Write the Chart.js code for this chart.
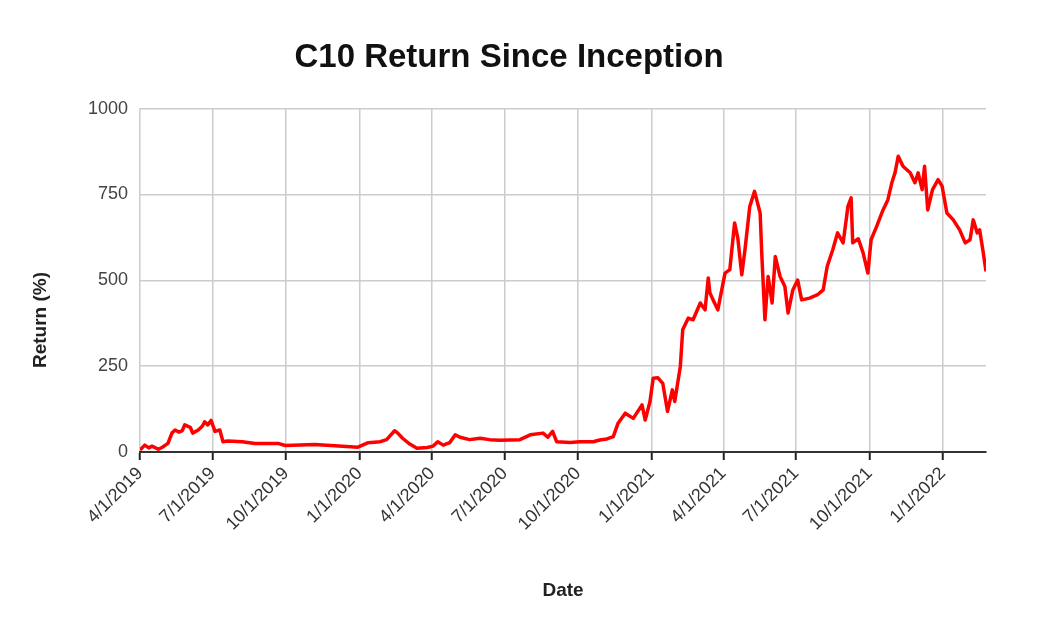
<!DOCTYPE html>
<html lang="en">

<head>
  <meta charset="UTF-8">
  <title>C10 Return Since Inception</title>
  <style>
    body { margin: 0; background: #fff; }
    #wrap { width: 1054px; height: 624px; }
  </style>
</head>

<body>
  <div id="wrap"><canvas id="chart"></canvas></div>

  <script src="https://cdn.jsdelivr.net/npm/chart.js"></script>

  <script>
    // quarter ticks on the date axis
    const tickLabels = ['4/1/2019', '7/1/2019', '10/1/2019', '1/1/2020', '4/1/2020', '7/1/2020',
      '10/1/2020', '1/1/2021', '4/1/2021', '7/1/2021', '10/1/2021', '1/1/2022']

    // dates
    const dates = [
      '4/1/2019', '4/7/2019', '4/12/2019', '4/16/2019', '4/24/2019', '4/29/2019', '5/6/2019', '5/11/2019',
      '5/15/2019', '5/20/2019', '5/24/2019', '5/27/2019', '6/3/2019', '6/6/2019', '6/13/2019', '6/18/2019',
      '6/21/2019', '6/25/2019', '6/29/2019', '7/4/2019', '7/10/2019', '7/14/2019', '7/20/2019', '8/7/2019',
      '8/23/2019', '9/21/2019', '9/30/2019', '11/6/2019', '12/1/2019', '12/30/2019',
      '1/12/2020', '1/27/2020', '2/4/2020', '2/14/2020', '2/18/2020', '2/24/2020', '3/4/2020', '3/13/2020',
      '3/26/2020', '4/2/2020', '4/8/2020', '4/15/2020', '4/23/2020', '4/30/2020', '5/6/2020', '5/18/2020',
      '5/31/2020', '6/12/2020', '6/25/2020', '7/20/2020', '8/2/2020', '8/18/2020', '8/24/2020', '8/30/2020',
      '9/4/2020', '9/21/2020', '10/3/2020', '10/20/2020', '10/28/2020', '11/6/2020', '11/14/2020', '11/20/2020',
      '11/29/2020', '12/9/2020', '12/20/2020', '12/24/2020', '12/30/2020',
      '1/3/2021', '1/9/2021', '1/15/2021', '1/21/2021', '1/27/2021', '1/30/2021', '2/6/2021', '2/9/2021',
      '2/16/2021', '2/22/2021', '3/3/2021', '3/9/2021', '3/13/2021', '3/15/2021', '3/19/2021', '3/25/2021',
      '4/3/2021', '4/9/2021', '4/15/2021', '4/19/2021', '4/24/2021', '4/28/2021', '5/4/2021', '5/10/2021',
      '5/17/2021', '5/19/2021', '5/23/2021', '5/27/2021', '6/1/2021', '6/5/2021', '6/11/2021', '6/17/2021',
      '6/21/2021', '6/27/2021', '7/3/2021', '7/8/2021', '7/18/2021', '7/28/2021', '8/4/2021', '8/9/2021',
      '8/16/2021', '8/22/2021', '8/29/2021', '9/4/2021', '9/8/2021', '9/10/2021', '9/17/2021', '9/23/2021',
      '9/29/2021', '10/3/2021', '10/10/2021', '10/18/2021', '10/24/2021', '10/29/2021', '11/2/2021', '11/6/2021',
      '11/12/2021', '11/21/2021', '11/27/2021', '12/1/2021', '12/6/2021', '12/9/2021', '12/13/2021', '12/19/2021',
      '12/26/2021', '12/31/2021',
      '1/6/2022', '1/14/2022', '1/22/2022', '1/29/2022', '2/4/2022', '2/8/2022', '2/13/2022', '2/16/2022',
      '2/20/2022', '2/24/2022'
    ]

    // return in %
    const returns = [
      6, 20, 12, 17, 8, 14, 25, 55,
      64, 58, 62, 79, 72, 55, 64, 75,
      88, 79, 92, 60, 64, 30, 32, 30,
      25, 25, 19, 22, 18, 14,
      27, 30, 36, 62, 55, 40, 23, 11,
      13, 17, 30, 20, 27, 50, 43, 36,
      40, 36, 34, 36, 50, 55, 43, 60,
      30, 28, 30, 30, 35, 38, 45, 84,
      113, 98, 137, 93, 147,
      215, 216, 200, 118, 181, 147, 249, 356,
      390, 385, 434, 414, 507, 464, 443, 414,
      521, 531, 667, 623, 516, 589, 715, 759,
      696, 580, 385, 511, 434, 569, 511, 482,
      405, 472, 501, 443, 448, 458, 472, 540,
      589, 638, 609, 715, 740, 609, 621, 580,
      521, 618, 657, 705, 734, 784, 813, 861,
      832, 813, 784, 813, 764, 832, 705, 764,
      793, 774,
      696, 676, 647, 609, 618, 676, 638, 647,
      589, 526
    ]

    const FONT = 'Arial, "Liberation Sans", sans-serif'
    const start = Date.UTC(2019, 3, 1)

    // 'M/D/YYYY' -> days since 4/1/2019
    function dayOf(s) {
      const [m, d, y] = s.split('/').map(Number)
      return (Date.UTC(y, m - 1, d) - start) / 864e5
    }

    const points = dates.map((s, i) => ({ x: dayOf(s), y: returns[i] }))
    const tickDays = tickLabels.map(dayOf)

    // y axis title sits a bit below the middle of the plot
    const yTitle = {
      id: 'yTitle',
      afterDraw(chart) {
        const c = chart.ctx
        c.save()
        c.translate(41, 320)
        c.rotate(-Math.PI / 2)
        c.font = 'bold 19px ' + FONT
        c.fillStyle = '#222'
        c.textAlign = 'center'
        c.textBaseline = 'middle'
        c.fillText('Return (%)', 0, 0)
        c.restore()
      }
    }

    new Chart(document.getElementById('chart'), {
      type: 'line',
      data: {
        datasets: [
          {
            label: 'C10',
            data: points,
            borderColor: '#ff0000',
            borderWidth: 3.5,
            borderJoinStyle: 'round',
            pointRadius: 0,
            tension: 0,
            fill: false,
          }
        ]
      },
      options: {
        responsive: true,
        maintainAspectRatio: false,
        animation: false,
        layout: { padding: { left: 32, right: 68, top: 0, bottom: 0 } },
        plugins: {
          legend: { display: false },
          tooltip: { enabled: false },
          title: {
            display: true,
            text: 'C10 Return Since Inception',
            color: '#111',
            font: { family: FONT, size: 33, weight: 'bold' },
            padding: { top: 38, bottom: 31 },
          },
        },
        scales: {
          x: {
            type: 'linear',
            min: 0,
            max: points[points.length - 1].x,
            afterFit(scale) { scale.height = 172 },
            afterBuildTicks(scale) { scale.ticks = tickDays.map(v => ({ value: v })) },
            grid: { color: '#cccccc', lineWidth: 1.5, tickColor: '#222', tickWidth: 2, tickLength: 8 },
            border: { color: '#333', width: 2 },
            ticks: {
              autoSkip: false,
              maxRotation: 45,
              minRotation: 45,
              color: '#333',
              font: { family: FONT, size: 18 },
              callback: (v, i) => tickLabels[i],
            },
            title: {
              display: true,
              text: 'Date',
              color: '#222',
              font: { family: FONT, size: 19, weight: 'bold' },
              padding: { top: 4, bottom: 22 },
            },
          },
          y: {
            min: 0,
            max: 1000,
            afterFit(scale) { scale.width = 108 },
            grid: { color: '#cccccc', lineWidth: 1.5, drawTicks: false },
            border: { display: false },
            ticks: {
              stepSize: 250,
              padding: 12,
              color: '#444',
              font: { family: FONT, size: 18 },
              callback: v => String(v),
            },
          },
        },
      },
      plugins: [yTitle],
    })
  </script>
</body>

</html>
